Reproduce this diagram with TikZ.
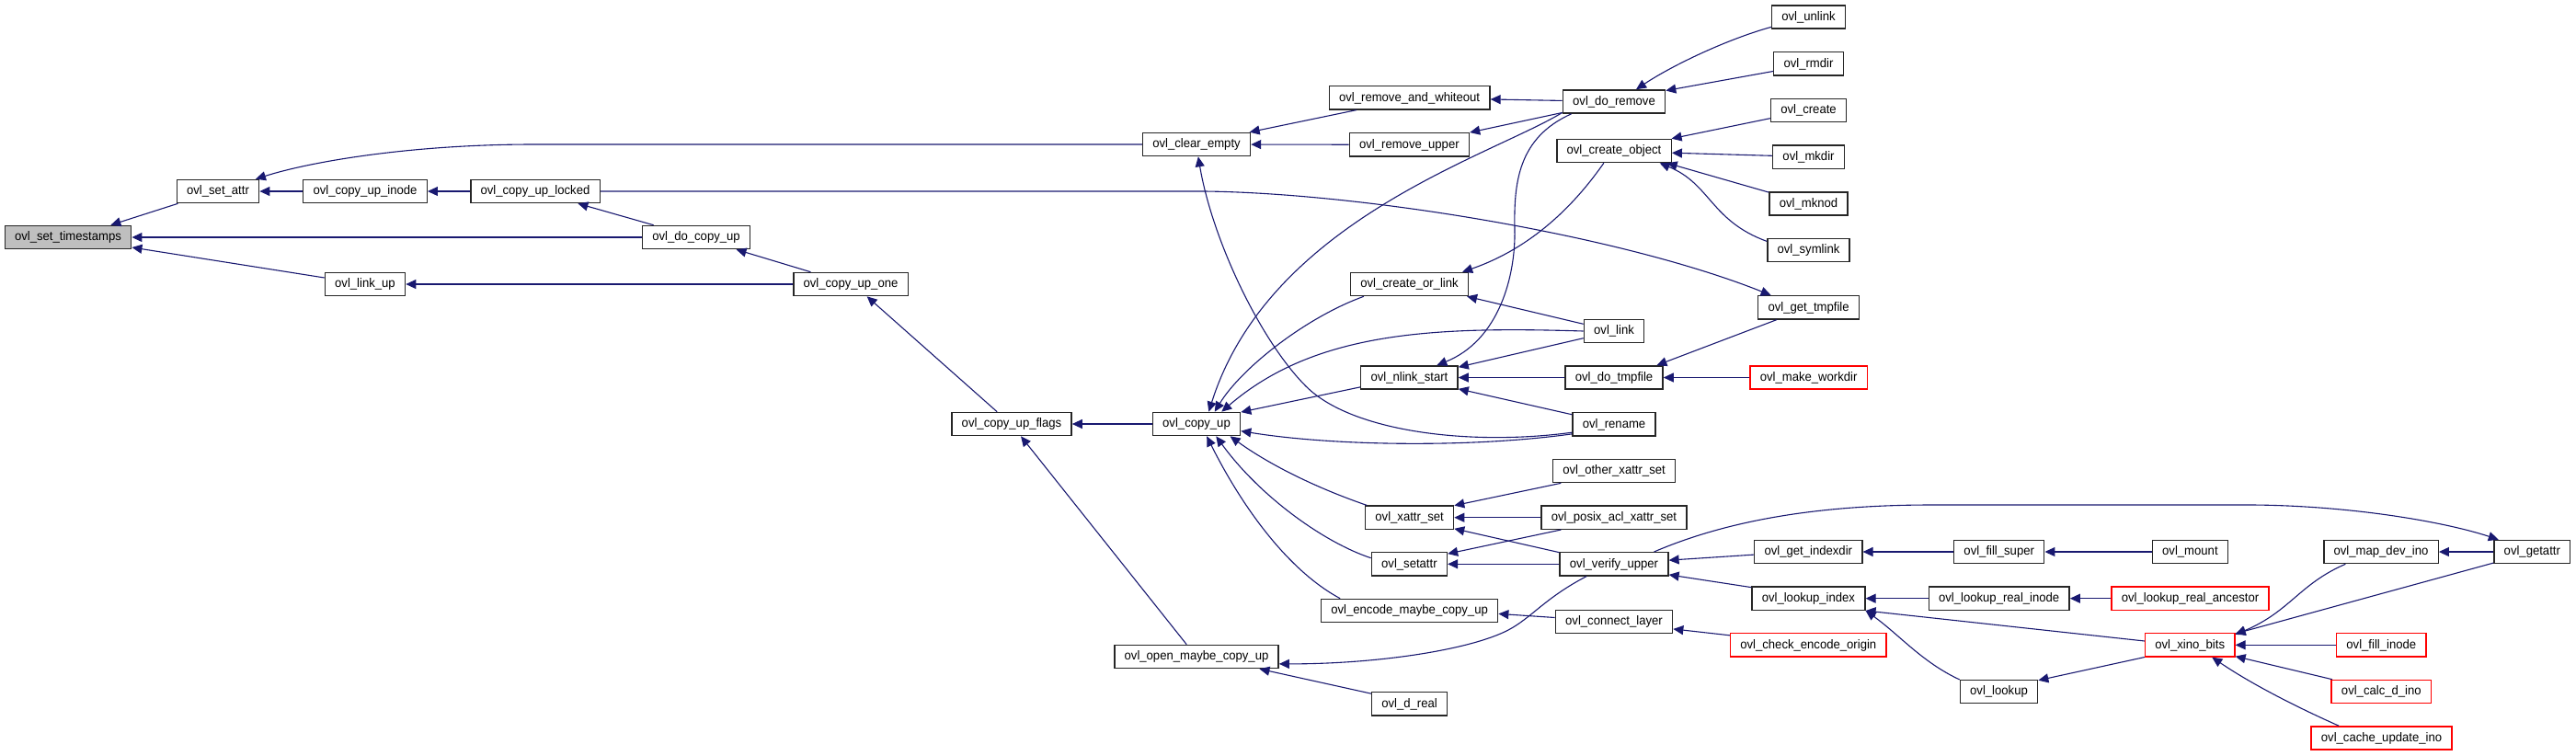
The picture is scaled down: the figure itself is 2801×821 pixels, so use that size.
\documentclass[tikz,border=0pt]{standalone}
\usepackage{fontspec}
\usepackage{xcolor}
\usepackage{tikz}
\usetikzlibrary{arrows.meta}
\newfontfamily\dxfont[FakeStretch=0.95]{Liberation Sans}
\definecolor{edgeblue}{HTML}{191970}

\begin{document}
\begin{tikzpicture}[
    x=0.5pt, y=-0.5pt,
    fn/.style={draw=black!85, fill=white, line width=0.7pt, minimum height=12.6pt,
               inner xsep=5.4pt, inner ysep=0pt, text height=5.2pt, text depth=1.5pt,
               font=\dxfont\fontsize{6.9pt}{8pt}\selectfont},
    cut/.style={fn, draw=red},
    self/.style={fn, fill=black!25},
    arr/.style={-{Triangle[length=5.5pt, width=5pt]}, draw=edgeblue, line width=0.55pt}
  ]
  \useasboundingbox (0,0) rectangle (2801,821);

  % Root and the copy-up chain (left part).
  \node[self] (stamps)   at (74,258)   {ovl\_set\_timestamps};
  \node[fn]   (setat)    at (237,208)  {ovl\_set\_attr};
  \node[fn]   (cpinode)  at (397,208)  {ovl\_copy\_up\_inode};
  \node[fn]   (cplocked) at (582,208)  {ovl\_copy\_up\_locked};
  \node[fn]   (linkup)   at (397,309)  {ovl\_link\_up};
  \node[fn]   (docp)     at (757,258)  {ovl\_do\_copy\_up};
  \node[fn]   (cpone)    at (925,309)  {ovl\_copy\_up\_one};
  \node[fn]   (cpflags)  at (1100,461) {ovl\_copy\_up\_flags};
  \node[fn]   (clrempty) at (1301,157) {ovl\_clear\_empty};
  \node[fn]   (cpup)     at (1301,461) {ovl\_copy\_up};
  \node[fn]   (openmaybe) at (1301,714) {ovl\_open\_maybe\_copy\_up};

  % Middle column.
  \node[fn] (rmwhite)  at (1532.6,106.3) {ovl\_remove\_and\_whiteout};
  \node[fn] (rmupper)  at (1532.4,157.3) {ovl\_remove\_upper};
  \node[fn] (mkorlink) at (1532.5,309)   {ovl\_create\_or\_link};
  \node[fn] (nlink)    at (1532.4,410.5) {ovl\_nlink\_start};
  \node[fn] (xattr)    at (1532.6,562.7) {ovl\_xattr\_set};
  \node[fn] (setattr)  at (1532.4,613.3) {ovl\_setattr};
  \node[fn] (encode)   at (1532.6,664)   {ovl\_encode\_maybe\_copy\_up};
  \node[fn] (dreal)    at (1532.6,765.3) {ovl\_d\_real};

  \node[fn] (doremove) at (1755,110.5) {ovl\_do\_remove};
  \node[fn] (mkobj)    at (1755,164)   {ovl\_create\_object};
  \node[fn] (link)     at (1755,360)   {ovl\_link};
  \node[fn] (dotmp)    at (1755,410.5) {ovl\_do\_tmpfile};
  \node[fn] (rename)   at (1755,461.3) {ovl\_rename};
  \node[fn] (otherx)   at (1755,512)   {ovl\_other\_xattr\_set};
  \node[fn] (posixacl) at (1755,562.7) {ovl\_posix\_acl\_xattr\_set};
  \node[fn] (verify)   at (1755,613.3) {ovl\_verify\_upper};
  \node[fn] (connect)  at (1755,676)   {ovl\_connect\_layer};

  \node[fn]  (unlink)    at (1966.5,18.5)  {ovl\_unlink};
  \node[fn]  (rmdir)     at (1966.5,69.3)  {ovl\_rmdir};
  \node[fn]  (create)    at (1966.5,119.8) {ovl\_create};
  \node[fn]  (mkdir)     at (1966.5,170.7) {ovl\_mkdir};
  \node[fn]  (mknod)     at (1966.5,221.5) {ovl\_mknod};
  \node[fn]  (symlink)   at (1966.5,272)   {ovl\_symlink};
  \node[fn]  (gettmp)    at (1966.6,334.3) {ovl\_get\_tmpfile};
  \node[cut] (workdir)   at (1966.6,410.5) {ovl\_make\_workdir};
  \node[fn]  (getidx)    at (1966.3,600)   {ovl\_get\_indexdir};
  \node[fn]  (lkidx)     at (1966.4,650.7) {ovl\_lookup\_index};
  \node[cut] (chkorigin) at (1966.3,701.3) {ovl\_check\_encode\_origin};

  % Right part (index / xino).
  \node[fn]  (fillsuper) at (2173.7,600)   {ovl\_fill\_super};
  \node[fn]  (lkrinode)  at (2173.7,650.7) {ovl\_lookup\_real\_inode};
  \node[fn]  (lookup)    at (2173.5,752)   {ovl\_lookup};
  \node[fn]  (mount)     at (2381.4,600)   {ovl\_mount};
  \node[cut] (lkranc)    at (2381.5,650.7) {ovl\_lookup\_real\_ancestor};
  \node[cut] (xino)      at (2381.2,701.3) {ovl\_xino\_bits};
  \node[fn]  (mapdev)    at (2589,600)     {ovl\_map\_dev\_ino};
  \node[cut] (fillinode) at (2589.3,701.3) {ovl\_fill\_inode};
  \node[cut] (calcino)   at (2589.3,752)   {ovl\_calc\_d\_ino};
  \node[cut] (cacheino)  at (2589.5,802.5) {ovl\_cache\_update\_ino};
  \node[fn]  (getattr)   at (2753.3,600)   {ovl\_getattr};

  % Calls into the left part.
  \draw[arr] (setat.197) -- (stamps.16);
  \draw[arr] (docp) -- (stamps);
  \draw[arr] (linkup.171) -- (stamps.351);
  \draw[arr] (cpinode) -- (setat);
  \draw[arr] (clrempty.west) -- (580,157) .. controls (450,157) and (340,175) .. (setat.18);
  \draw[arr] (cplocked) -- (cpinode);
  \draw[arr] (docp.164) -- (cplocked.344);
  \draw[arr] (cplocked.east) -- (1310,208) .. controls (1480,210) and (1760,255) .. (gettmp.162);
  \draw[arr] (cpone.163) -- (docp.343);
  \draw[arr] (cpone) -- (linkup);
  \draw[arr] (cpflags.140) -- (cpone.323);
  \draw[arr] (cpup) -- (cpflags);
  \draw[arr] (openmaybe.129) -- (cpflags.307);

  % Remove / create.
  \draw[arr] (rmwhite.193) -- (clrempty.13);
  \draw[arr] (rmupper) -- (clrempty);
  \draw[arr] (rename.191) .. controls (1600,485) and (1470,470) .. (1420,420)
                          .. controls (1370,370) and (1318,260) .. (clrempty.278);
  \draw[arr] (doremove) -- (rmwhite);
  \draw[arr] (doremove.192) -- (rmupper.north east);
  \draw[arr] (unlink.195) .. controls (1880,42) and (1820,70) .. (doremove.29);
  \draw[arr] (rmdir.192) -- (doremove.12);
  \draw[arr] (doremove.192) .. controls (1620,170) and (1380,240) .. (cpup.45);
  \draw[arr] (doremove.196) .. controls (1650,150) and (1646,200) .. (1647,250)
                            .. controls (1648,300) and (1630,370) .. (nlink.24);
  \draw[arr] (create.192) -- (mkobj.12);
  \draw[arr] (mkdir.178) -- (mkobj.358);
  \draw[arr] (mknod.164) -- (mkobj.347);
  \draw[arr] (symlink.168) .. controls (1860,240) and (1860,200) .. (mkobj.345);
  \draw[arr] (mkobj.230) .. controls (1700,240) and (1650,275) .. (mkorlink.13);
  \draw[arr] (mkorlink.195) .. controls (1420,345) and (1350,400) .. (cpup.34);

  % Link / rename / tmpfile.
  \draw[arr] (link.167) -- (mkorlink.348);
  \draw[arr] (link.180) .. controls (1560,355) and (1430,360) .. (cpup.26);
  \draw[arr] (link.193) -- (nlink.12);
  \draw[arr] (dotmp) -- (nlink);
  \draw[arr] (workdir) -- (dotmp);
  \draw[arr] (gettmp.201) -- (dotmp.16);
  \draw[arr] (rename.167) -- (nlink.347);
  \draw[arr] (nlink.191) -- (cpup.15);
  \draw[arr] (rename.193) .. controls (1600,487) and (1450,485) .. (cpup.351);

  % Xattr / setattr / verify.
  \draw[arr] (otherx.193) -- (xattr.15);
  \draw[arr] (posixacl) -- (xattr);
  \draw[arr] (verify.168) -- (xattr.346);
  \draw[arr] (posixacl.193) -- (setattr.15);
  \draw[arr] (verify) -- (setattr);
  \draw[arr] (xattr.164) .. controls (1430,530) and (1380,505) .. (cpup.340);
  \draw[arr] (setattr.171) .. controls (1440,590) and (1370,540) .. (cpup.328);
  \draw[arr] (encode.170) .. controls (1400,620) and (1350,550) .. (cpup.310);
  \draw[arr] (connect.176) -- (encode.358);
  \draw[arr] (chkorigin.173) -- (connect.353);
  \draw[arr] (verify.204) .. controls (1680,650) and (1665,672) .. (1640,685)
                          .. controls (1600,706) and (1500,722) .. (openmaybe.355);
  \draw[arr] (dreal.165) -- (openmaybe.349);
  \draw[arr] (getidx.183) -- (verify.4);
  \draw[arr] (lkidx.169) -- (verify.349);
  \draw[arr] (verify.17) .. controls (1880,565) and (1980,549) .. (2100,549) -- (2450,549)
                         .. controls (2560,550) and (2660,568) .. (getattr.160);

  % Index and xino.
  \draw[arr] (fillsuper) -- (getidx);
  \draw[arr] (mount) -- (fillsuper);
  \draw[arr] (lkrinode) -- (lkidx);
  \draw[arr] (lkranc) -- (lkrinode);
  \draw[arr] (xino.175) -- (lkidx.south east);
  \draw[arr] (lookup.163) .. controls (2090,720) and (2065,690) .. (lkidx.348);
  \draw[arr] (xino.195) -- (lookup.16);
  \draw[arr] (mapdev.199) .. controls (2500,635) and (2490,665) .. (xino.13);
  \draw[arr] (getattr) -- (mapdev);
  \draw[arr] (getattr.196) -- (xino.14);
  \draw[arr] (fillinode) -- (xino);
  \draw[arr] (calcino.166) -- (xino.346);
  \draw[arr] (cacheino.164) .. controls (2500,770) and (2450,745) .. (xino.331);
\end{tikzpicture}
\end{document}
